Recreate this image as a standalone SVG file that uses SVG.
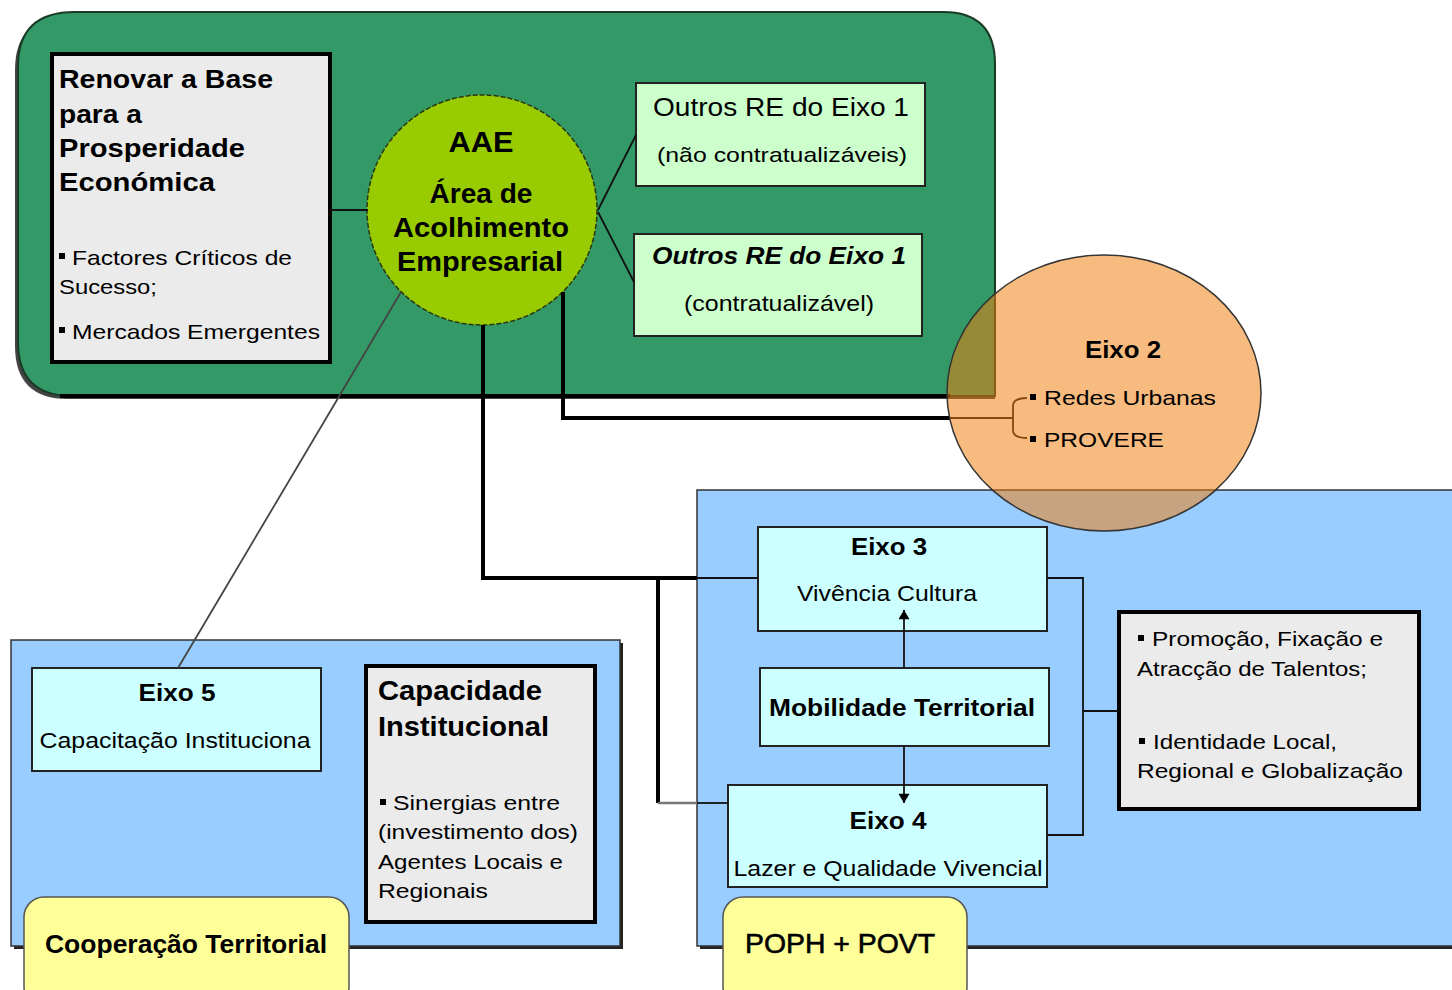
<svg xmlns="http://www.w3.org/2000/svg" width="1452" height="990" viewBox="0 0 1452 990">
<defs>
<style>
text{font-family:"Liberation Sans",Arial,sans-serif;fill:#000}
.b{font-weight:bold}
.box{stroke:#222;stroke-width:2}
.lg{fill:#ccffcc}
.cy{fill:#ccffff}
.gr{fill:#ebebeb;stroke:#000;stroke-width:4}
.yel{fill:#ffff99;stroke:#555;stroke-width:1.5}
.blue{fill:#99ccff;stroke:#333;stroke-width:1.5}
.c{text-anchor:middle}
.thick{fill:none;stroke:#000;stroke-width:4}
.thin{fill:none;stroke:#111;stroke-width:1.8}
</style>
<marker id="ah" viewBox="0 0 10 12" refX="10" refY="6" markerWidth="12" markerHeight="11" markerUnits="userSpaceOnUse" orient="auto">
<path d="M0,0 L10,6 L0,12 z" fill="#000"/>
</marker>
</defs>
<rect width="1452" height="990" fill="#fff"/>

<g id="eixo1-area">
<path d="M75,16 H941 Q995,16 995,70 V399 H68 Q15,399 15,346 V70 Q15,16 70,16 z" fill="#444"/>
<path d="M75,12 H943 Q995,12 995,64 V396 H72 Q18,396 18,342 V66 Q18,12 75,12 z" fill="#339966" stroke="#1a3a28" stroke-width="2"/>
<line x1="60" y1="396" x2="950" y2="396" stroke="#000" stroke-width="4"/>
</g>

<g id="area-left">
<rect x="14" y="643" width="609" height="306" fill="#222"/>
<rect x="11" y="640" width="609" height="306" class="blue"/>
</g>

<g id="area-right">
<rect x="700" y="493" width="760" height="456" fill="#222"/>
<rect x="697" y="490" width="760" height="456" class="blue"/>
</g>

<g id="renovar">
<rect x="52" y="54" width="278" height="308" class="gr"/>
<text class="b" font-size="26" x="59" y="88" textLength="214" lengthAdjust="spacingAndGlyphs">Renovar a Base</text>
<text class="b" font-size="26" x="59" y="123" textLength="83" lengthAdjust="spacingAndGlyphs">para a</text>
<text class="b" font-size="26" x="59" y="157" textLength="186" lengthAdjust="spacingAndGlyphs">Prosperidade</text>
<text class="b" font-size="26" x="59" y="191" textLength="156" lengthAdjust="spacingAndGlyphs">Económica</text>
<rect x="59" y="253" width="6" height="6" fill="#000"/>
<text font-size="21" x="72" y="265" textLength="220" lengthAdjust="spacingAndGlyphs">Factores Críticos de</text>
<text font-size="21" x="59" y="294" textLength="98" lengthAdjust="spacingAndGlyphs">Sucesso;</text>
<rect x="59" y="327" width="6" height="6" fill="#000"/>
<text font-size="21" x="72" y="339" textLength="248" lengthAdjust="spacingAndGlyphs">Mercados Emergentes</text>
</g>

<g id="aae">
<ellipse cx="482" cy="210" rx="115" ry="115" fill="#99cc00" stroke="#2a3a10" stroke-width="1.5" stroke-dasharray="5 2"/>
<text class="b c" font-size="30" x="481" y="152" textLength="65" lengthAdjust="spacingAndGlyphs">AAE</text>
<text class="b c" font-size="27" x="481" y="203" textLength="103" lengthAdjust="spacingAndGlyphs">Área de</text>
<text class="b c" font-size="27" x="481" y="237" textLength="176" lengthAdjust="spacingAndGlyphs">Acolhimento</text>
<text class="b c" font-size="27" x="480" y="271" textLength="166" lengthAdjust="spacingAndGlyphs">Empresarial</text>
</g>

<g id="outros-re-1">
<rect x="636" y="83" width="289" height="103" class="box lg"/>
<text class="c" font-size="25" x="781" y="116" textLength="256" lengthAdjust="spacingAndGlyphs">Outros RE do Eixo 1</text>
<text class="c" font-size="21" x="782" y="162" textLength="250" lengthAdjust="spacingAndGlyphs">(não contratualizáveis)</text>
</g>

<g id="outros-re-2">
<rect x="634" y="234" width="288" height="102" class="box lg"/>
<text class="c b" font-style="italic" font-size="23" x="779" y="264" textLength="254" lengthAdjust="spacingAndGlyphs">Outros RE do Eixo 1</text>
<text class="c" font-size="22" x="779" y="311" textLength="190" lengthAdjust="spacingAndGlyphs">(contratualizável)</text>
</g>

<g id="eixo3">
<rect x="758" y="527" width="289" height="104" class="box cy"/>
<text class="c b" font-size="24" x="889" y="555" textLength="76" lengthAdjust="spacingAndGlyphs">Eixo 3</text>
<text class="c" font-size="22" x="887" y="601" textLength="180" lengthAdjust="spacingAndGlyphs">Vivência Cultura</text>
</g>

<g id="mobilidade">
<rect x="760" y="668" width="289" height="78" class="box cy"/>
<text class="c b" font-size="24" x="902" y="716" textLength="266" lengthAdjust="spacingAndGlyphs">Mobilidade Territorial</text>
</g>

<g id="eixo4">
<rect x="728" y="785" width="319" height="102" class="box cy"/>
<text class="c b" font-size="24" x="888" y="829" textLength="77" lengthAdjust="spacingAndGlyphs">Eixo 4</text>
<text class="c" font-size="22" x="888" y="876" textLength="309" lengthAdjust="spacingAndGlyphs">Lazer e Qualidade Vivencial</text>
</g>

<g id="talentos">
<rect x="1119" y="612" width="300" height="197" class="gr"/>
<rect x="1138" y="635" width="6" height="6" fill="#000"/>
<text font-size="21" x="1152" y="646" textLength="231" lengthAdjust="spacingAndGlyphs">Promoção, Fixação e</text>
<text font-size="21" x="1137" y="676" textLength="230" lengthAdjust="spacingAndGlyphs">Atracção de Talentos;</text>
<rect x="1139" y="738" width="6" height="6" fill="#000"/>
<text font-size="21" x="1153" y="749" textLength="184" lengthAdjust="spacingAndGlyphs">Identidade Local,</text>
<text font-size="21" x="1137" y="778" textLength="266" lengthAdjust="spacingAndGlyphs">Regional e Globalização</text>
</g>

<g id="eixo5">
<rect x="32" y="668" width="289" height="103" class="box cy"/>
<text class="c b" font-size="24" x="177" y="701" textLength="77" lengthAdjust="spacingAndGlyphs">Eixo 5</text>
<text class="c" font-size="22" x="175" y="748" textLength="271" lengthAdjust="spacingAndGlyphs">Capacitação Instituciona</text>
</g>

<g id="capacidade">
<rect x="366" y="666" width="229" height="256" class="gr"/>
<text class="b" font-size="27" x="378" y="700" textLength="164" lengthAdjust="spacingAndGlyphs">Capacidade</text>
<text class="b" font-size="27" x="378" y="736" textLength="171" lengthAdjust="spacingAndGlyphs">Institucional</text>
<rect x="380" y="799" width="6" height="6" fill="#000"/>
<text font-size="21" x="393" y="810" textLength="167" lengthAdjust="spacingAndGlyphs">Sinergias entre</text>
<text font-size="21" x="378" y="839" textLength="200" lengthAdjust="spacingAndGlyphs">(investimento dos)</text>
<text font-size="21" x="378" y="869" textLength="185" lengthAdjust="spacingAndGlyphs">Agentes Locais e</text>
<text font-size="21" x="378" y="898" textLength="110" lengthAdjust="spacingAndGlyphs">Regionais</text>
</g>

<g id="cooperacao">
<rect x="24" y="897" width="325" height="110" rx="20" class="yel"/>
<text class="b" font-size="26" x="45" y="953" textLength="282" lengthAdjust="spacingAndGlyphs">Cooperação Territorial</text>
</g>

<g id="poph">
<rect x="723" y="897" width="244" height="110" rx="20" class="yel"/>
<text font-size="28" x="745" y="953" textLength="190" lengthAdjust="spacingAndGlyphs" stroke="#000" stroke-width="0.6">POPH + POVT</text>
</g>

<g id="connectors">
<path class="thin" d="M330,210 H368" stroke-width="2.5"/>
<path class="thin" d="M598,210 L636,135"/>
<path class="thin" d="M598,212 L634,282"/>
<path class="thick" d="M563,292 V418 H950"/>
<path class="thin" d="M950,418 H1013"/>
<path class="thin" d="M1027,398 Q1013,398 1013,406 V430 Q1013,438 1027,438"/>
<path class="thick" d="M483,325 V578 H697"/>
<path class="thin" d="M697,578 H758"/>
<path class="thick" d="M658,578 V803" stroke-width="3.5"/>
<path fill="none" stroke="#777" stroke-width="2.5" d="M658,803 H697"/>
<path class="thin" d="M697,803 H728"/>
<path class="thin" d="M1047,578 H1083 V835 H1047"/>
<path class="thin" d="M1083,711 H1119"/>
<path class="thin" d="M904,668 V610" marker-end="url(#ah)"/>
<path class="thin" d="M904,746 V803" marker-end="url(#ah)"/>
<path fill="none" stroke="#444" stroke-width="1.8" d="M401,292 L178,668"/>
</g>

<g id="eixo2">
<ellipse cx="1104" cy="393" rx="157" ry="138" fill="rgb(242,125,10)" fill-opacity="0.52" stroke="#333" stroke-width="1.5"/>
<text class="c b" font-size="24" x="1123" y="358" textLength="76" lengthAdjust="spacingAndGlyphs">Eixo 2</text>
<rect x="1030" y="394" width="6" height="6" fill="#000"/>
<text font-size="21" x="1044" y="405" textLength="172" lengthAdjust="spacingAndGlyphs">Redes Urbanas</text>
<rect x="1030" y="436" width="6" height="6" fill="#000"/>
<text font-size="21" x="1044" y="447" textLength="120" lengthAdjust="spacingAndGlyphs">PROVERE</text>
</g>
</svg>
